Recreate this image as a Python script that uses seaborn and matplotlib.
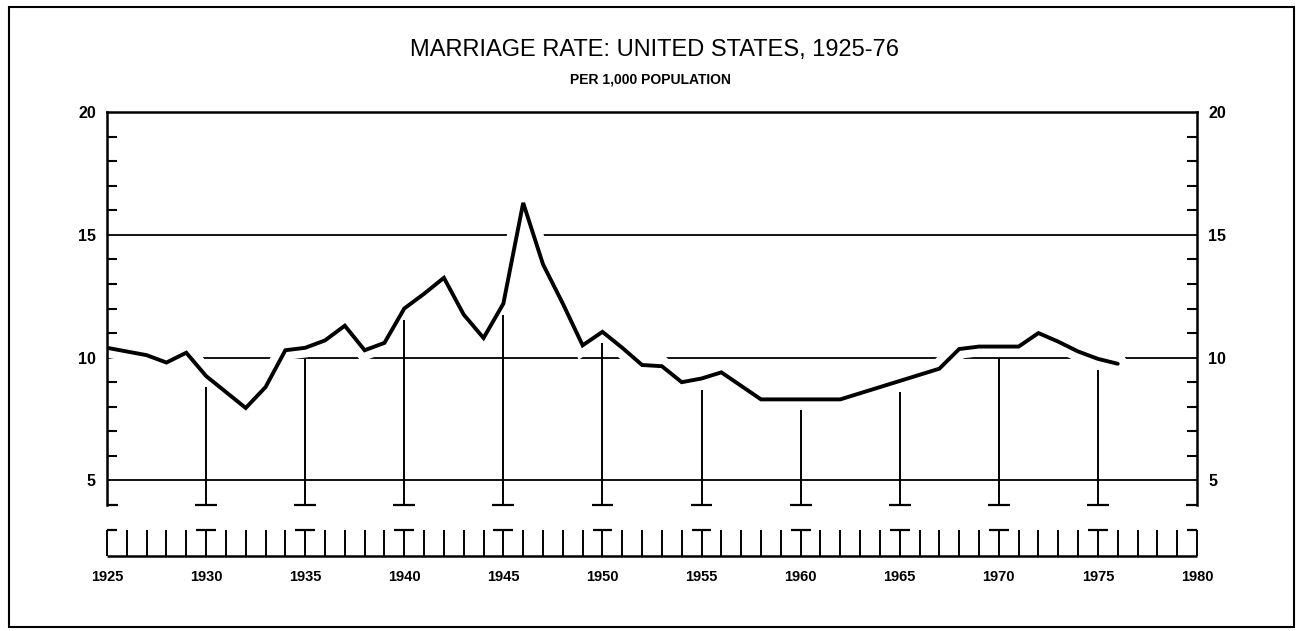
import matplotlib
matplotlib.use("Agg")
import matplotlib.pyplot as plt
import matplotlib.patheffects as pe
from matplotlib.patches import Rectangle
import numpy as np
import pandas as pd
import seaborn as sns

# marriage rate per 1,000 population
years = list(range(1925, 1977))
rates = [10.4, 10.25, 10.1, 9.8, 10.2, 9.25, 8.6, 7.95, 8.8, 10.3,
         10.4, 10.7, 11.3, 10.3, 10.6, 12.0, 12.6, 13.25, 11.75, 10.8,
         12.2, 16.3, 13.8, 12.2, 10.5, 11.05, 10.4, 9.7, 9.65, 9.0,
         9.15, 9.4, 8.85, 8.3, 8.3, 8.3, 8.3, 8.3, 8.55, 8.8,
         9.05, 9.3, 9.55, 10.35, 10.45, 10.45, 10.45, 11.0, 10.65, 10.25,
         9.95, 9.75]
drop_years = [1930, 1935, 1940, 1945, 1950, 1955, 1960, 1965, 1970, 1975]
y_labels = [5, 10, 15, 20]
x_labels = list(range(1925, 1981, 5))

title = "MARRIAGE RATE: UNITED STATES, 1925-76"
subtitle = "PER 1,000 POPULATION"

sns.set_style("white")
plt.rcParams['font.family'] = ['Liberation Sans', 'DejaVu Sans']
plt.rcParams['text.color'] = 'black'
plt.rcParams['xtick.color'] = 'black'
plt.rcParams['ytick.color'] = 'black'

df = pd.DataFrame({'year': years, 'rate': rates})

fig = plt.figure(figsize=(12.98, 6.31), dpi=100)
W, H = 1298, 631

# main plot area
x0, x1 = 107, 1197
ytop, ybot = 112, 505
ax = fig.add_axes([x0 / W, 1 - ybot / H, (x1 - x0) / W, (ybot - ytop) / H])
ax.set_xlim(1925, 1980)
ax.set_ylim(4, 20)

# horizontal rules at 5, 10, 15
for v in y_labels[:-1]:
    ax.axhline(v, color='black', lw=1.3, zorder=1)

# data line with a white halo that breaks the rules where it crosses
sns.lineplot(data=df, x='year', y='rate', ax=ax, color='black', lw=2.8,
             zorder=2, solid_joinstyle='miter',
             path_effects=[pe.Stroke(linewidth=14, foreground='white'), pe.Normal()])

# drop lines every five years, stopping short of the curve
gap = 0.45
rate_of = dict(zip(years, rates))
tops = [rate_of[y] - gap for y in drop_years]
ax.vlines(drop_years, 4, tops, color='black', lw=1.4, zorder=3, clip_on=False)
ax.hlines([4] * len(drop_years), np.array(drop_years) - 0.55,
          np.array(drop_years) + 0.55, color='black', lw=1.6, zorder=3, clip_on=False)
# feet of the side axes
ax.hlines([4, 4], [1925, 1979.45], [1925.55, 1980], color='black', lw=1.6, clip_on=False)

for s in ['left', 'right', 'top']:
    ax.spines[s].set_linewidth(1.8)
    ax.spines[s].set_color('black')
ax.spines['bottom'].set_visible(False)

ax.set_yticks(y_labels)
ax.set_yticks([v for v in range(6, 20) if v % 5 != 0], minor=True)
ax.tick_params(axis='y', which='major', length=0, labelsize=11.5, pad=8,
               left=True, right=True, labelleft=True, labelright=True)
ax.tick_params(axis='y', which='minor', direction='in', length=7.5, width=1.5,
               left=True, right=True, color='black')
for lab in ax.get_yticklabels():
    lab.set_fontweight('bold')
ax.set_xticks([])
ax.set_xlabel('')
ax.set_ylabel('')

# year comb under the plot
cb_top, cb_bot = 530, 556
cax = fig.add_axes([x0 / W, 1 - cb_bot / H, (x1 - x0) / W, (cb_bot - cb_top) / H])
cax.set_xlim(1925, 1980)
cax.set_ylim(0, 1)
all_years = np.arange(1925, 1981)
cax.vlines(all_years, 0, 1, color='black', lw=1.4, clip_on=False)
cax.hlines(0, 1925, 1980, color='black', lw=1.8, clip_on=False)
mids = np.array(x_labels[1:-1])
cax.hlines([1] * len(mids), mids - 0.5, mids + 0.5, color='black', lw=1.6, clip_on=False)
cax.hlines([1, 1], [1925, 1979.5], [1925.5, 1980], color='black', lw=1.6, clip_on=False)
for s in cax.spines.values():
    s.set_visible(False)
cax.set_yticks([])
cax.set_xticks(x_labels)
cax.set_xticklabels([str(v) for v in x_labels], fontweight='bold')
cax.tick_params(axis='x', length=0, labelsize=10.5, pad=10)

# titles
fig.text(0.504, 1 - 50 / H, title, ha='center', va='center', fontsize=17)
fig.text(0.501, 1 - 80 / H, subtitle, ha='center', va='center', fontsize=10,
         fontweight='bold')

# outer frame
fig.patches.append(Rectangle((9 / W, 1 - 627 / H), (1294 - 9) / W, (627 - 7) / H,
                             transform=fig.transFigure, fill=False,
                             edgecolor='black', lw=1.5))

fig.savefig('out.png', dpi=100)
